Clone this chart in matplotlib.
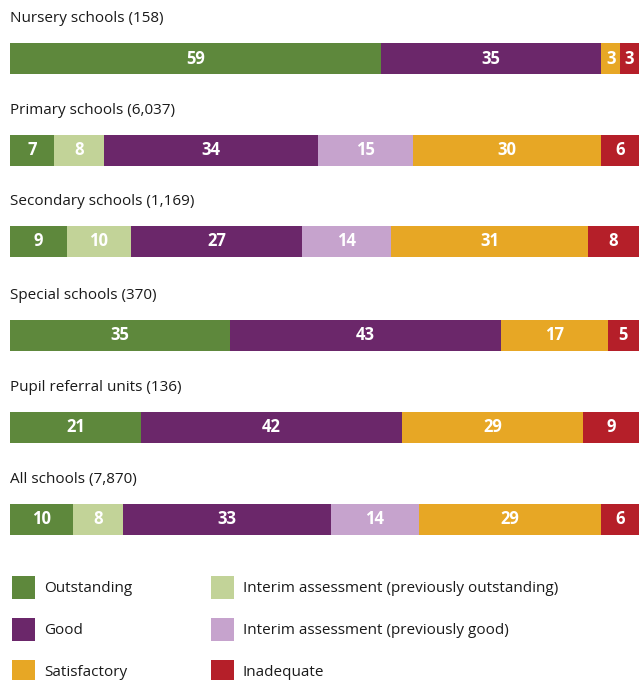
import matplotlib.pyplot as plt
from matplotlib.patches import Rectangle

plt.rcParams['font.family'] = ['Open Sans', 'DejaVu Sans']

# 学校種別ごとの評価割合 (%)
school_types = ['Nursery schools (158)', 'Primary schools (6,037)', 'Secondary schools (1,169)',
                'Special schools (370)', 'Pupil referral units (136)', 'All schools (7,870)']
outstanding = [59, 7, 9, 35, 21, 10]
interim_outstanding = [0, 8, 10, 0, 0, 8]
good = [35, 34, 27, 43, 42, 33]
interim_good = [0, 15, 14, 0, 0, 14]
satisfactory = [3, 30, 31, 17, 29, 29]
inadequate = [3, 6, 8, 5, 9, 6]

categories = ['Outstanding', 'Interim assessment (previously outstanding)', 'Good',
              'Interim assessment (previously good)', 'Satisfactory', 'Inadequate']
series = [outstanding, interim_outstanding, good, interim_good, satisfactory, inadequate]
colors = ['#5e883c', '#c2d398', '#6b276a', '#c6a3cd', '#e7a725', '#b51f29']

W, H = 639, 680
fig = plt.figure(figsize=(W / 100, H / 100), dpi=100)

# 座標はピクセル単位 (上から下)
ax = fig.add_axes([10 / W, 1 - 545 / H, 629 / W, 545 / H])
ax.set_xlim(0, 100)
ax.set_ylim(545, 0)
ax.axis('off')

bar_y = [58.5, 150, 241.5, 335.5, 427.5, 519.5]
bar_h = 31

for i, name in enumerate(school_types):
    total = sum(s[i] for s in series)
    left = 0
    for s, c in zip(series, colors):
        v = s[i]
        if v == 0:
            continue
        w = v * 100 / total
        ax.barh(bar_y[i], w, left=left, height=bar_h, color=c, linewidth=0)
        ax.text(left + w / 2, bar_y[i], str(v), ha='center', va='center',
                color='white', fontsize=12, fontweight='bold')
        left += w
    ax.text(0, bar_y[i] - 40, name, ha='left', va='center', fontsize=11, color='#1a1a1a')

# 凡例
legend_pos = [(12, 576), (211, 576), (12, 618), (211, 618), (12, 660), (211, 660)]
for (x, y), label, c in zip(legend_pos, categories, colors):
    fig.patches.append(Rectangle((x / W, 1 - (y + 23) / H), 23 / W, 23 / H,
                                 transform=fig.transFigure, color=c, linewidth=0))
    fig.text((x + 32) / W, 1 - (y + 12) / H, label, ha='left', va='center',
             fontsize=11, color='#1a1a1a')

plt.savefig('out.png', dpi=100)
plt.close()
